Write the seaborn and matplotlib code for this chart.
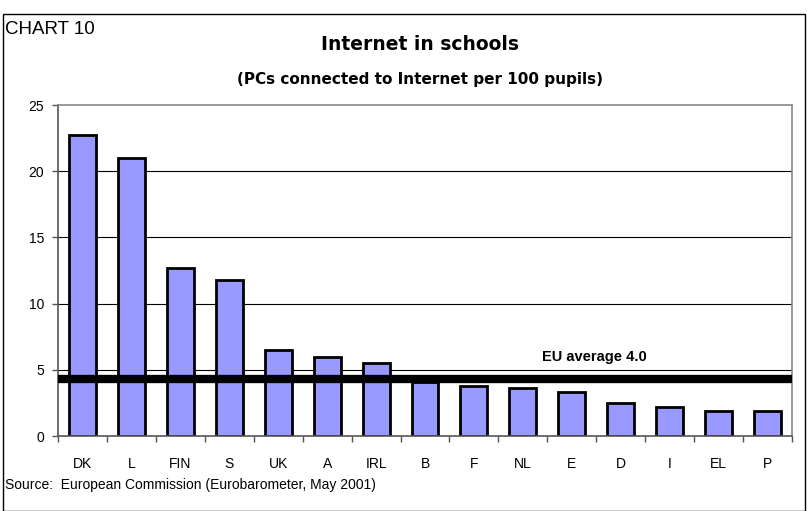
import pandas as pd
import seaborn as sns
import matplotlib.pyplot as plt
from matplotlib.patches import Rectangle

# Values
countries = ["DK", "L", "FIN", "S", "UK", "A", "IRL", "B", "F", "NL", "E", "D", "I", "EL", "P"]
pcs_per_100 = [22.7, 21.0, 12.7, 11.8, 6.5, 6.0, 5.5, 4.1, 3.8, 3.6, 3.3, 2.5, 2.2, 1.9, 1.9]
eu_line = 4.3  # drawn position of the "EU average 4.0" line

data = pd.DataFrame({"country": countries, "value": pcs_per_100})

sns.set_theme(style="white")
plt.rcParams["font.family"] = ["Liberation Sans", "DejaVu Sans"]
plt.rcParams["text.color"] = "black"
plt.rcParams["xtick.color"] = "black"
plt.rcParams["ytick.color"] = "black"

fig = plt.figure(figsize=(8.07, 5.11), dpi=100)
ax = fig.add_axes([58 / 807, 1 - 436 / 511, 734 / 807, 331 / 511])

sns.barplot(data=data, x="country", y="value", color="#9999FF", saturation=1,
            width=0.55, edgecolor="black", linewidth=2, ax=ax, zorder=2)

ax.set_ylim(0, 25)
ax.set_xlim(-0.5, len(countries) - 0.5)
ax.set_yticks(range(0, 26, 5))
ax.set_xlabel("")
ax.set_ylabel("")

# horizontal grid lines at 5..20
for y in range(5, 25, 5):
    ax.axhline(y, color="black", linewidth=0.8, zorder=1)

ax.axhline(eu_line, color="black", linewidth=6, zorder=3)
ax.text(10.47, 6.0, "EU average 4.0", fontsize=10.5, fontweight="bold", ha="center", va="center")

for side in ["top", "right"]:
    ax.spines[side].set_color("#888888")
    ax.spines[side].set_linewidth(1.2)
for side in ["left", "bottom"]:
    ax.spines[side].set_color("#555555")
    ax.spines[side].set_linewidth(1.2)

ax.tick_params(axis="y", which="both", left=True, length=4, width=1, color="#555555",
               labelsize=10, pad=6)
ax.tick_params(axis="x", which="both", bottom=False, labelsize=10, pad=9)
ax.set_xticks([i + 0.5 for i in range(-1, len(countries))], minor=True)
ax.tick_params(axis="x", which="minor", bottom=True, length=4, width=1, color="#555555")

# titles and notes
fig.text(5 / 807, 1 - 29 / 511, "CHART 10", fontsize=13.5, ha="left", va="center")
fig.text(420 / 807, 1 - 45 / 511, "Internet in schools", fontsize=13.5, fontweight="bold",
         family="DejaVu Sans", ha="center", va="center")
fig.text(420 / 807, 1 - 79 / 511, "(PCs connected to Internet per 100 pupils)", fontsize=11,
         fontweight="bold", family="DejaVu Sans", ha="center", va="center")
fig.text(5 / 807, 1 - 485 / 511, "Source:  European Commission (Eurobarometer, May 2001)",
         fontsize=10, ha="left", va="center")

# outer frame
fig.patches.append(Rectangle((3 / 807, 0), 802 / 807, 497 / 511, transform=fig.transFigure,
                             fill=False, edgecolor="black", linewidth=1))

fig.savefig("out.png", dpi=100)
